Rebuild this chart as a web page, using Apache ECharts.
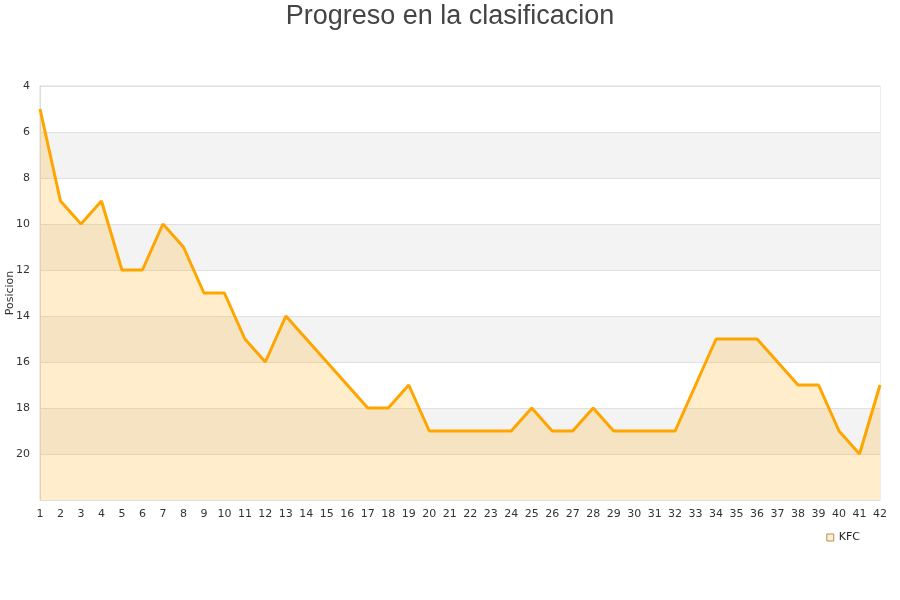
<!DOCTYPE html>
<html>
<head>
<meta charset="utf-8">
<script src="https://cdn.jsdelivr.net/npm/echarts@6/dist/echarts.min.js"></script>
<style>html,body{margin:0;padding:0;background:#fff}#c{width:900px;height:600px}</style>
</head>
<body>
<div id="c"></div>
<script>
var jornadas = [];
for (var i = 1; i <= 42; i++) jornadas.push(String(i));
var posiciones = [5, 9, 10, 9, 12, 12, 10, 11, 13, 13, 15, 16, 14, 15, 16, 17, 18, 18, 17, 19, 19, 19, 19, 19, 18, 19, 19, 18, 19, 19, 19, 19, 17, 15, 15, 15, 16, 17, 17, 19, 20, 17];
var seriesName = 'KFC';
var titleText = 'Progreso en la clasificacion';
var yName = 'Posicion';

var chart = echarts.init(document.getElementById('c'));
chart.setOption({
  animation: false,
  backgroundColor: '#fff',
  title: {
    text: titleText, left: 'center', top: -2,
    textStyle: { fontFamily: 'Liberation Sans', fontSize: 27, fontWeight: 'normal', color: '#444' }
  },
  legend: {
    data: [{ name: seriesName, icon: 'rect', itemStyle: { color: '#ffeecc', borderColor: '#b09060', borderWidth: 1 } }],
    right: 35, top: 527, itemWidth: 7, itemHeight: 7, itemGap: 8,
    textStyle: { fontFamily: 'DejaVu Sans', fontSize: 11, color: '#222' }
  },
  grid: { left: 40, right: 20, top: 86, bottom: 100, show: true, borderColor: '#ddd', borderWidth: 1, containLabel: false, outerBoundsMode: 'none' },
  xAxis: {
    type: 'category', data: jornadas, boundaryGap: false,
    axisLine: { lineStyle: { color: '#ddd' } },
    axisTick: { show: false },
    axisLabel: { interval: 0, color: '#333', fontFamily: 'DejaVu Sans', fontSize: 11, margin: 9, hideOverlap: false },
    splitLine: { show: false }
  },
  yAxis: {
    type: 'value', inverse: true, min: 4, max: 22, interval: 2,
    name: yName, nameLocation: 'middle', nameGap: 24, nameRotate: 90, nameMoveOverlap: false,
    nameTextStyle: { fontFamily: 'DejaVu Sans', fontSize: 11, color: '#333' },
    axisLine: { show: true, lineStyle: { color: '#ddd' } },
    axisTick: { show: false },
    axisLabel: { color: '#333', fontFamily: 'DejaVu Sans', fontSize: 11, margin: 10,
      formatter: function (v) { return v === 22 ? '' : String(v); } },
    splitLine: { show: true, lineStyle: { color: '#e0e0e0' } },
    splitArea: { show: true, areaStyle: { color: ['#ffffff', '#f3f3f3'] } }
  },
  series: [{
    name: seriesName, type: 'line', data: posiciones,
    symbol: 'none',
    lineStyle: { color: '#ffa500', width: 3 },
    itemStyle: { color: '#ffa500' },
    areaStyle: { color: 'rgba(255,165,0,0.2)', origin: 'end', opacity: 1 }
  }]
});
</script>
</body>
</html>
